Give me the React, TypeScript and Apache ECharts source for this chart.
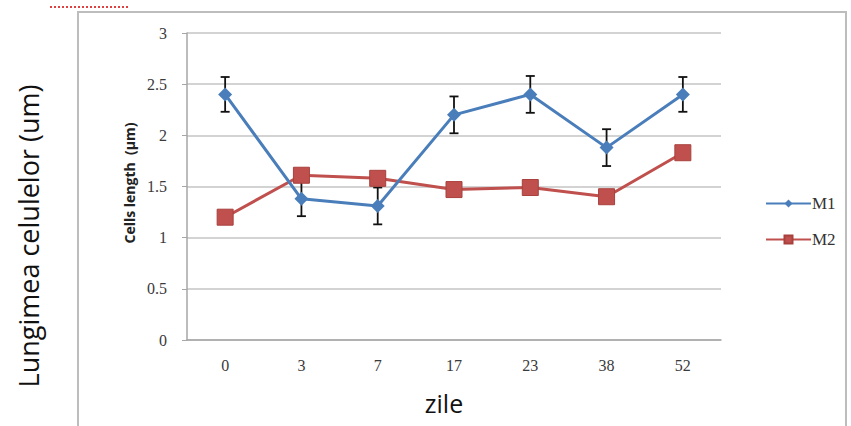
import React, { useEffect, useRef } from "react";
import * as echarts from "echarts";

const categories = ["0", "3", "7", "17", "23", "38", "52"];
const m1Values = [2.4, 1.38, 1.31, 2.2, 2.4, 1.88, 2.4];
const m1Errors = [0.17, 0.17, 0.18, 0.18, 0.18, 0.18, 0.17];
const m2Values = [1.2, 1.61, 1.58, 1.47, 1.49, 1.4, 1.83];
const yTicks = [0, 0.5, 1, 1.5, 2, 2.5, 3];

export default function App() {
  const ref = useRef<HTMLDivElement>(null);
  useEffect(() => {
    if (!ref.current) return;
    const chart = echarts.init(ref.current, null, { renderer: "svg" });
    const errData = m1Values.map((v, i) => [i, v - m1Errors[i], v + m1Errors[i]]);
    chart.setOption({
      animation: false,
      backgroundColor: "#ffffff",
      grid: { left: 187, right: 130, top: 33, bottom: 86 },
      legend: {
        orient: "vertical",
        left: 760,
        top: 190,
        itemWidth: 45,
        itemHeight: 10,
        itemGap: 19,
        data: ["M1", "M2"],
        textStyle: { fontFamily: "Liberation Serif", fontSize: 17, color: "#333", padding: [0, 0, 0, -4] },
      },
      xAxis: {
        type: "category",
        data: categories,
        boundaryGap: true,
        axisLine: { lineStyle: { color: "#a6a6a6", width: 1.5 } },
        axisTick: { show: false },
        axisLabel: { margin: 17, fontFamily: "Liberation Serif", fontSize: 16, color: "#3a3a3a" },
        name: "zile",
        nameLocation: "middle",
        nameGap: 50,
        nameTextStyle: { fontFamily: "Open Sans", fontSize: 25, color: "#111", padding: [0, 20, 0, 0] },
      },
      yAxis: {
        type: "value",
        min: 0,
        max: 3,
        interval: 0.5,
        axisLine: { show: true, lineStyle: { color: "#a6a6a6", width: 1.5 } },
        axisTick: { show: true, length: 5, lineStyle: { color: "#a6a6a6" } },
        splitLine: { lineStyle: { color: "#c4c4c4", width: 1.5 } },
        axisLabel: {
          margin: 20,
          fontFamily: "Liberation Serif",
          fontSize: 16,
          color: "#3a3a3a",
          formatter: (v: number) => (yTicks.includes(v) ? String(v) : ""),
        },
      },
      graphic: [
        {
          type: "rect",
          shape: { x: 78, y: 12, width: 768, height: 430 },
          style: { fill: "none", stroke: "#bdbdbd", lineWidth: 2 },
          silent: true,
          z: -10,
        },
        {
          type: "line",
          shape: { x1: 50, y1: 7, x2: 130, y2: 7 },
          style: { stroke: "#e04040", lineWidth: 2, lineDash: [2, 2] },
        },
        {
          type: "text",
          x: 28,
          y: 236,
          rotation: Math.PI / 2,
          style: {
            text: "Lungimea celulelor (um)",
            fontFamily: "Open Sans",
            fontSize: 27,
            fill: "#111",
            align: "center",
            verticalAlign: "middle",
          },
        },
        {
          type: "text",
          x: 129,
          y: 183,
          rotation: Math.PI / 2,
          style: {
            text: "Cells length  (\u03bcm)",
            fontFamily: "Open Sans",
            fontWeight: "bold",
            fontSize: 14,
            fill: "#222",
            align: "center",
            verticalAlign: "middle",
          },
        },
      ],
      series: [
        {
          name: "M1",
          type: "line",
          data: m1Values,
          symbol: "diamond",
          symbolSize: 14,
          itemStyle: { color: "#4a7ebb" },
          lineStyle: { color: "#4a7ebb", width: 3 },
          z: 4,
        },
        {
          name: "M2",
          type: "line",
          data: m2Values,
          symbol: "rect",
          symbolSize: 16,
          itemStyle: { color: "#c0504d", borderColor: "#a8403d", borderWidth: 1 },
          lineStyle: { color: "#c0504d", width: 3 },
          z: 3,
        },
        {
          name: "err",
          type: "custom",
          data: errData,
          z: 2,
          renderItem: (params: any, api: any) => {
            const i = api.value(0);
            const lo = api.coord([i, api.value(1)]);
            const hi = api.coord([i, api.value(2)]);
            const hw = 4.5;
            const st = { stroke: "#111", lineWidth: 1.8 };
            return {
              type: "group",
              children: [
                { type: "line", shape: { x1: hi[0], y1: hi[1], x2: lo[0], y2: lo[1] }, style: st },
                { type: "line", shape: { x1: hi[0] - hw, y1: hi[1], x2: hi[0] + hw, y2: hi[1] }, style: st },
                { type: "line", shape: { x1: lo[0] - hw, y1: lo[1], x2: lo[0] + hw, y2: lo[1] }, style: st },
              ],
            };
          },
        },
      ],
    });
    return () => chart.dispose();
  }, []);
  return (
    <div
      ref={ref}
      style={{ position: "fixed", left: 0, top: 0, width: 851, height: 426 }}
    />
  );
}
